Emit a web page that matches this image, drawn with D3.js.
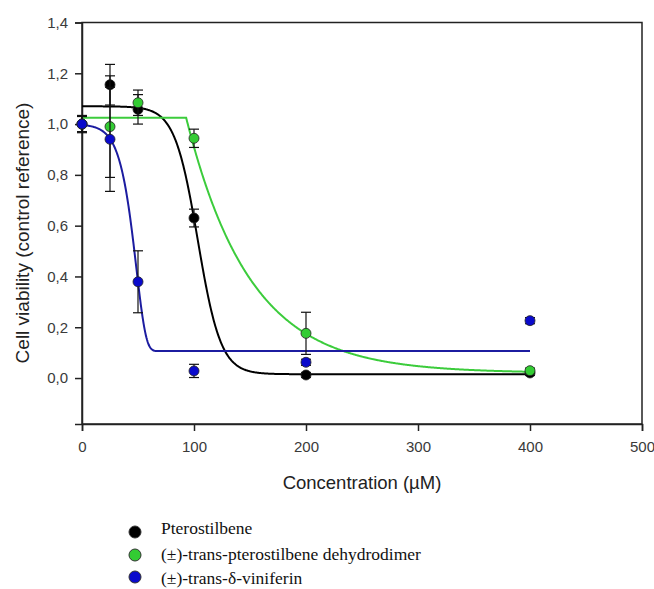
<!DOCTYPE html>
<html>
<head>
<meta charset="utf-8">
<script src="https://d3js.org/d3.v7.min.js"></script>
<style>
 body {margin:0; background:#fff;}
 svg {display:block;}
 .tick text {font-family:"Liberation Sans", Arial, sans-serif; font-size:15px; fill:#3a3a3a;}
</style>
</head>
<body>
<div id="chart"></div>
<script>
// concentrations (µM)
var conc = [0, 25, 50, 100, 200, 400];

// mean viability and error per compound
var pteroMean  = [1.0, 1.155, 1.058, 0.63, 0.012, 0.02];
var pteroErr   = [0.03, 0.08, 0.058, 0.035, 0.01, 0.01];
var dimerMean  = [1.0, 0.99, 1.084, 0.944, 0.176, 0.029];
var dimerErr   = [0.03, 0.2, 0.05, 0.036, 0.083, 0.01];
var vinifMean  = [1.0, 0.94, 0.379, 0.028, 0.062, 0.226];
var vinifErr   = [0.034, 0.205, 0.122, 0.026, 0.012, 0.012];

var names  = ["Pterostilbene", "(\u00b1)-trans-pterostilbene dehydrodimer", "(\u00b1)-trans-\u03b4-viniferin"];
var colors = ["#000000", "#33cc33", "#0a0acc"];
var lineColors = ["#000000", "#3ccc3c", "#1c1ca0"];

// fitted curve parameters (top, bottom, x0, slope) read from the drawn fits
var pteroFit = {top: 1.07, bottom: 0.015, x0: 103.4, b: 10.3};
var dimerFit = {top: 1.025, bottom: 0.02, x0: 93, k: 0.0175};
var vinifFit = {top: 1.0, bottom: 0.106, x0: 48.5, b: 8.7};

var xTicks = [0, 100, 200, 300, 400, 500];
var yTicks = [0, 0.2, 0.4, 0.6, 0.8, 1.0, 1.2, 1.4];

var width = 654, height = 589;
var svg = d3.select("#chart").append("svg").attr("width", width).attr("height", height);

var x = d3.scaleLinear().domain([0, 500]).range([82, 642]);
var y = d3.scaleLinear().domain([-0.181, 1.4]).range([424, 22.5]);

// frame
svg.append("rect").attr("x", 82).attr("y", 22.5).attr("width", 560).attr("height", 401.5)
   .attr("fill", "none").attr("stroke", "#222").attr("stroke-width", 1.5);

var fmt = function(d){ return d3.format(".1f")(d).replace(".", ","); };

var gx = svg.append("g").attr("transform", "translate(0,424)")
  .call(d3.axisBottom(x).tickValues(xTicks).tickSize(7).tickPadding(10).tickFormat(d3.format("d")));
var gy = svg.append("g").attr("transform", "translate(82,0)")
  .call(d3.axisLeft(y).tickValues(yTicks).tickSize(7).tickPadding(7).tickFormat(fmt));
[gx, gy].forEach(function(g){
  g.select(".domain").attr("stroke", "#222").attr("stroke-width", 1.5);
  g.selectAll(".tick line").attr("stroke", "#222").attr("stroke-width", 1.5);
});

svg.append("text").attr("x", 362).attr("y", 489).attr("text-anchor", "middle")
   .style("font-family", "Liberation Sans, Arial, sans-serif").style("font-size", "18.5px").attr("fill", "#222")
   .text("Concentration (\u00b5M)");
svg.append("text").attr("transform", "translate(29,233) rotate(-90)").attr("text-anchor", "middle")
   .style("font-family", "Liberation Sans, Arial, sans-serif").style("font-size", "19px").attr("fill", "#222")
   .text("Cell viability (control reference)");

// fitted curves
var fits = [
  function(c){ var f = pteroFit; return f.bottom + (f.top - f.bottom) / (1 + Math.exp((c - f.x0) / f.b)); },
  function(c){ var f = dimerFit; return Math.min(f.top, f.bottom + (f.top - f.bottom) * Math.exp(-f.k * (c - f.x0))); },
  function(c){ var f = vinifFit; return f.bottom + (f.top - f.bottom) * Math.exp(-Math.exp((c - f.x0) / f.b)); }
];
var xs = d3.range(0, 400.5, 0.5);
var line = d3.line().x(function(d){ return x(d[0]); }).y(function(d){ return y(d[1]); });
fits.forEach(function(fn, i){
  svg.append("path").datum(xs.map(function(c){ return [c, fn(c)]; }))
     .attr("d", line).attr("fill", "none").attr("stroke", lineColors[i]).attr("stroke-width", 2);
});

// points with error bars
var series = [[pteroMean, pteroErr], [dimerMean, dimerErr], [vinifMean, vinifErr]];
series.forEach(function(s, i){
  var pts = conc.map(function(c, j){ return {c: c, m: s[0][j], e: s[1][j]}; });
  var g = svg.append("g");
  var eb = g.selectAll("g.eb").data(pts).enter().append("g").attr("stroke", "#111").attr("stroke-width", 1.2);
  eb.append("line").attr("x1", function(d){ return x(d.c); }).attr("x2", function(d){ return x(d.c); })
    .attr("y1", function(d){ return y(d.m - d.e); }).attr("y2", function(d){ return y(d.m + d.e); });
  eb.append("line").attr("x1", function(d){ return x(d.c) - 5; }).attr("x2", function(d){ return x(d.c) + 5; })
    .attr("y1", function(d){ return y(d.m + d.e); }).attr("y2", function(d){ return y(d.m + d.e); });
  eb.append("line").attr("x1", function(d){ return x(d.c) - 5; }).attr("x2", function(d){ return x(d.c) + 5; })
    .attr("y1", function(d){ return y(d.m - d.e); }).attr("y2", function(d){ return y(d.m - d.e); });
  g.selectAll("circle").data(pts).enter().append("circle")
    .attr("cx", function(d){ return x(d.c); }).attr("cy", function(d){ return y(d.m); })
    .attr("r", 5).attr("fill", colors[i]).attr("stroke", "#222").attr("stroke-width", 0.8);
});

// legend
var legY = [532, 555, 577], legText = [534, 560, 584];
names.forEach(function(n, i){
  svg.append("circle").attr("cx", 135).attr("cy", legY[i]).attr("r", 6)
     .attr("fill", colors[i]).attr("stroke", "#333").attr("stroke-width", 1);
  svg.append("text").attr("x", 161).attr("y", legText[i])
     .style("font-family", "Liberation Serif, 'Times New Roman', serif").style("font-size", "17.5px").attr("fill", "#111")
     .text(n);
});
</script>
</body>
</html>
